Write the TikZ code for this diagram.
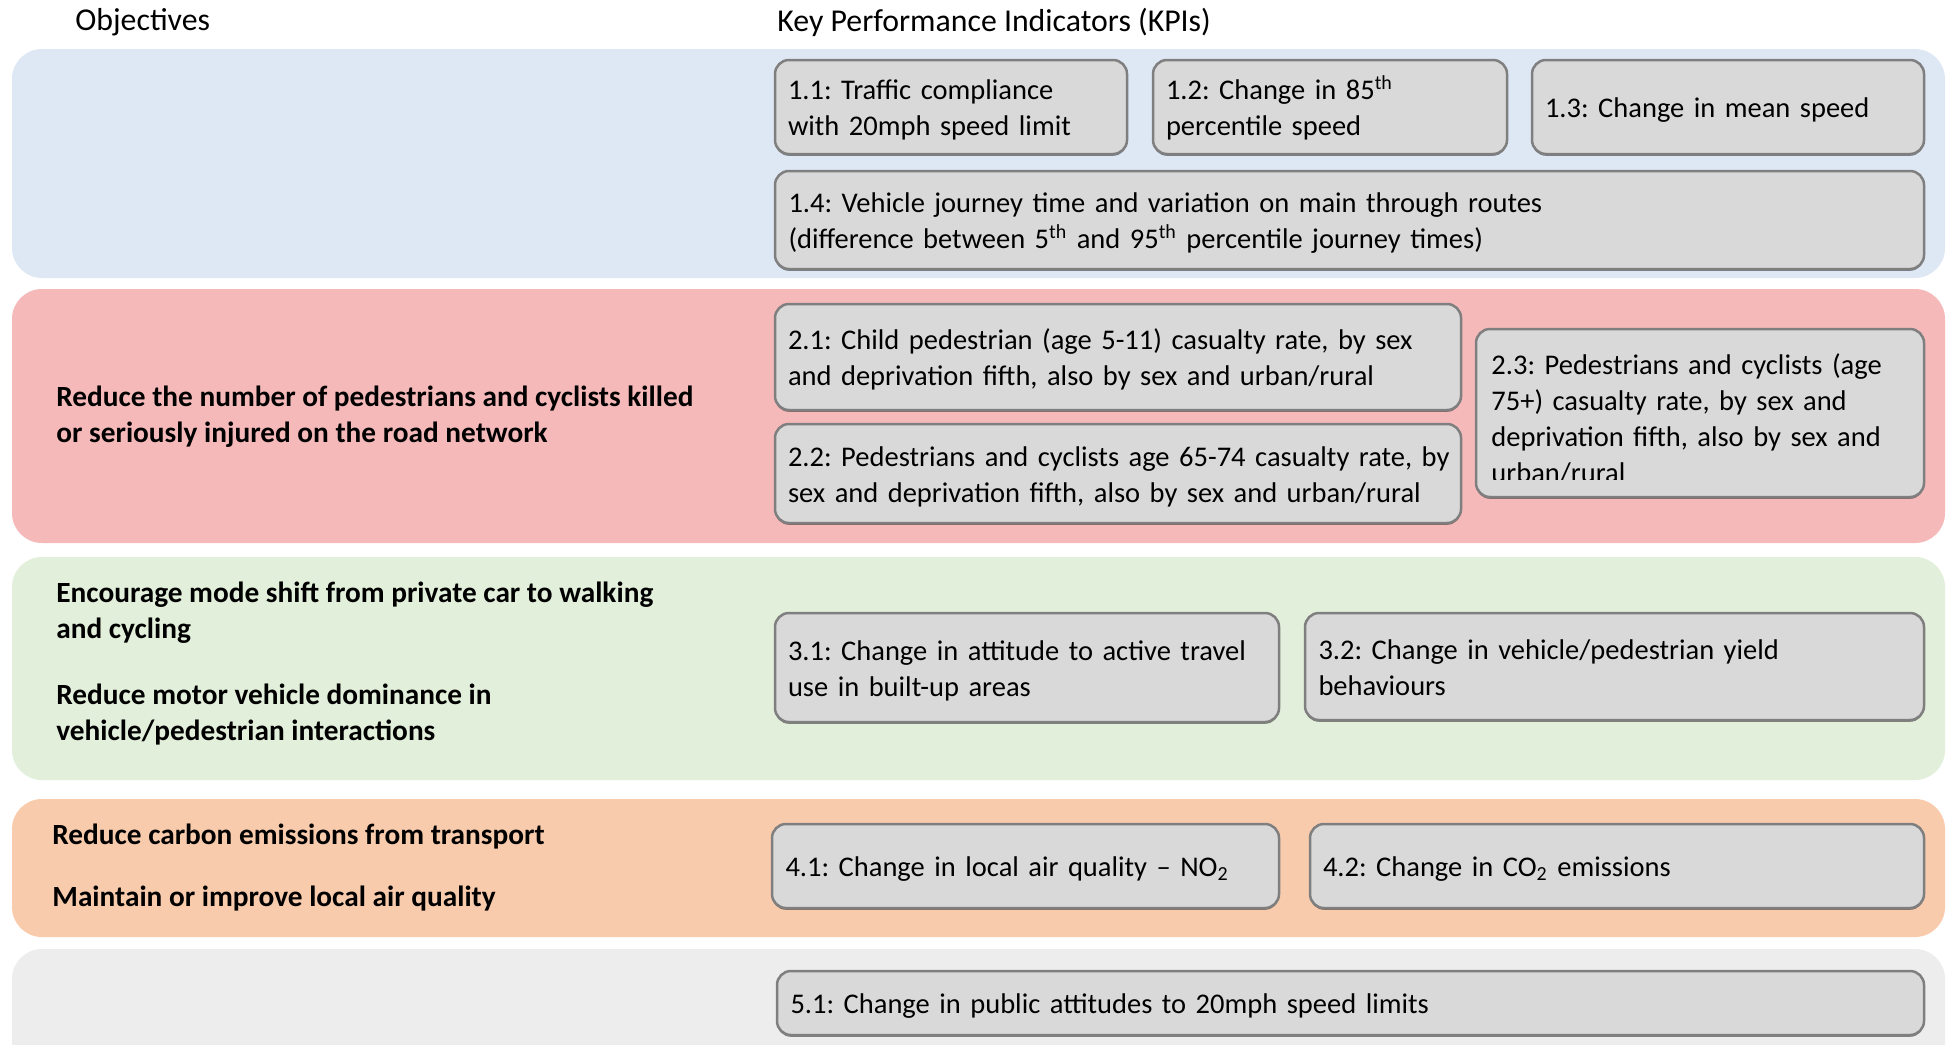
\documentclass[tikz,border=0pt]{standalone}
\usepackage{fontspec}
\setmainfont{Carlito}
\usetikzlibrary{shadows}
\definecolor{bandblue}{HTML}{DEE8F5}
\definecolor{bandred}{HTML}{F5B9BA}
\definecolor{bandgreen}{HTML}{E2EFDA}
\definecolor{bandorange}{HTML}{F8CBAD}
\definecolor{bandgray}{HTML}{EDEDED}
\definecolor{kpifill}{HTML}{D9D9D9}
\definecolor{kpiborder}{HTML}{7F7F7F}
\newcommand\kpifont{\fontsize{14.25pt}{18pt}\selectfont\frenchspacing}
\newcommand\objfont{\fontsize{14.65pt}{18pt}\selectfont\bfseries\frenchspacing}
\newcommand\headfont{\fontsize{15.9pt}{19pt}\selectfont\frenchspacing}
\newcommand\topstrut{\rule{0pt}{16pt}}
\newcommand\botstrut{\rule[-5.4pt]{0pt}{5.4pt}}
\tikzset{
  band/.style={rounded corners=15pt},
  kpi/.style={draw=kpiborder, fill=kpifill, line width=1.25pt, rounded corners=7pt,
    drop shadow={shadow xshift=0pt, shadow yshift=-0.9pt, fill=black, opacity=0.45},
    anchor=north west, outer sep=0pt, inner xsep=6.5pt, inner ysep=0pt, align=left, font=\kpifont,
    execute at begin node=\topstrut, execute at end node=\botstrut},
  obj/.style={anchor=west, align=left, font=\objfont, inner sep=0pt},
  head/.style={anchor=west, font=\headfont, inner sep=0pt}
}
\begin{document}
\begin{tikzpicture}[x=0.5pt,y=-0.5pt]
\useasboundingbox (0,0) rectangle (1952,1044);
\clip (0,0) rectangle (1952,1044);
\fill[white] (0,0) rectangle (1952,1044);
% bands
\fill[band, bandblue]   (12,49)  rectangle (1945,278);
\fill[band, bandred]    (12,289) rectangle (1945,543);
\fill[band, bandgreen]  (12,557) rectangle (1945,780);
\fill[band, bandorange] (12,799) rectangle (1945,937);
\fill[band, bandgray]   (12,949) rectangle (1945,1080);
% headers
\node[head] (hobj) at (75,22) {Objectives};
\node[head] (hkpi) at (777,22) {Key Performance Indicators (KPIs)};
% objectives
\node[obj] (o2) at (56,417) {Reduce the number of pedestrians and cyclists killed\\or seriously injured on the road network};
\node[obj] (o3a) at (56,613) {Encourage mode shift from private car to walking\\and cycling};
\node[obj] (o3b) at (56,715) {Reduce motor vehicle dominance in\\vehicle/pedestrian interactions};
\node[obj] (o4a) at (52,837) {Reduce carbon emissions from transport};
\node[obj] (o4b) at (52,899) {Maintain or improve local air quality};
% KPI boxes
\node[kpi, minimum width=176pt, minimum height=47pt, text width=163pt] (k11) at (775,60)
  {1.1: Traffic compliance\\with 20mph speed limit};
\node[kpi, minimum width=177pt, minimum height=47pt, text width=164pt] (k12) at (1153,60)
  {1.2: Change in 85\textsuperscript{th}\\percentile speed};
\node[kpi, minimum width=196pt, minimum height=47pt, text width=183pt] (k13) at (1532,60)
  {1.3: Change in mean speed};
\node[kpi, minimum width=574.5pt, minimum height=49pt, text width=561pt] (k14) at (775,171)
  {1.4: Vehicle journey time and variation on main through routes\\(difference between 5\textsuperscript{th} and 95\textsuperscript{th} percentile journey times)};
\node[kpi, minimum width=343pt, minimum height=53pt, text width=330pt] (k21) at (775,304)
  {\mbox{2.1: Child pedestrian (age 5-11) casualty rate, by sex}\\\mbox{and deprivation fifth, also by sex and urban/rural}};
\node[kpi, minimum width=343pt, minimum height=49.5pt, text width=330pt] (k22) at (775,424)
  {\mbox{2.2: Pedestrians and cyclists age 65-74 casualty rate, by}\\\mbox{sex and deprivation fifth, also by sex and urban/rural}};
\node[kpi, minimum width=224pt, minimum height=84pt, text width=211pt] (k23) at (1476,329) {};
\begin{scope}
  \clip (1476,329) rectangle (1924,479);
  \node[anchor=north west, inner sep=0pt, text width=210pt, align=left, font=\kpifont] (t23) at (1491,353)
    {2.3: Pedestrians and cyclists (age\\75+) casualty rate, by sex and\\deprivation fifth, also by sex and\\urban/rural};
\end{scope}
\node[kpi, minimum width=252pt, minimum height=54.5pt, text width=239pt] (k31) at (775,613)
  {3.1: Change in attitude to active travel\\use in built-up areas};
\node[kpi, minimum width=309.5pt, minimum height=53.5pt, text width=296pt] (k32) at (1305,613)
  {3.2: Change in vehicle/pedestrian yield\\behaviours};
\node[kpi, minimum width=253.5pt, minimum height=42pt, text width=240pt] (k41) at (772,824)
  {4.1: Change in local air quality -- NO\textsubscript{2}};
\node[kpi, minimum width=307pt, minimum height=42pt, text width=294pt] (k42) at (1310,824)
  {4.2: Change in CO\textsubscript{2} emissions};
\node[kpi, minimum width=573.5pt, minimum height=32pt, text width=560pt] (k51) at (777,971)
  {5.1: Change in public attitudes to 20mph speed limits};
\end{tikzpicture}
\end{document}
